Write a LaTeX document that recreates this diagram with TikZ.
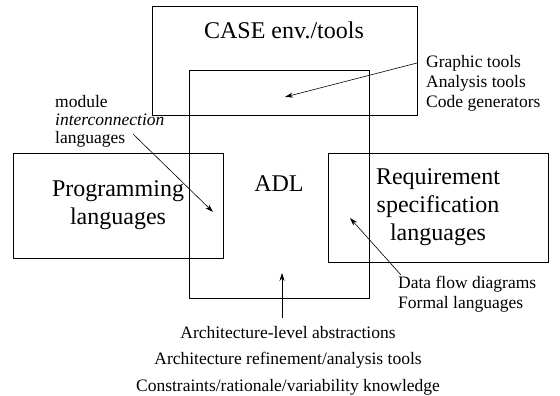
\documentclass[tikz,border=0pt]{standalone}
\usepackage{fontspec}
\setmainfont{Liberation Serif}
\usetikzlibrary{arrows.meta}
\begin{document}
\begin{tikzpicture}[x=1pt,y=-1pt,
  box/.style={draw, line width=0.8pt, inner sep=0pt, align=center,
    font=\fontsize{24}{28}\selectfont},
  bigtxt/.style={inner sep=0pt, font=\fontsize{24}{28}\selectfont},
  lbl/.style={inner sep=0pt, align=left, anchor=north west},
  arr/.style={line width=0.6pt, -{Stealth[length=8pt,width=5pt]}}]
\useasboundingbox (0,0) rectangle (560,396);
% boxes
\node[box, minimum width=265pt, minimum height=109pt] (case) at (284.5,60.5) {};
\node[bigtxt, anchor=base] (casetxt) at (284,39) {CASE env./tools};
\node[box, minimum width=180pt, minimum height=228pt] (adl) at (279,184) {ADL};
\node[box, minimum width=210pt, minimum height=105pt] (prog) at (118,205.5) {Programming\\languages};
\node[box, minimum width=220pt, minimum height=109pt] (req) at (438,207.5) {Requirement\\specification\\languages};
% labels
\node[lbl, font=\fontsize{17.5}{20}\selectfont] (tools) at (426,55) {Graphic tools\\Analysis tools\\Code generators};
\node[lbl, font=\fontsize{17.5}{18}\selectfont] (mil) at (55,95) {module\\\textit{interconnection}\\languages};
\node[lbl, font=\fontsize{17.5}{20}\selectfont] (dfd) at (398,276) {Data flow diagrams\\Formal languages};
\node[inner sep=0pt, align=center, anchor=north, font=\fontsize{17.5}{26.5}\selectfont] (arch) at (288,326)
  {Architecture-level abstractions\\Architecture refinement/analysis tools\\Constraints/rationale/variability knowledge};
% arrows
\coordinate (g1) at (417,63);
\coordinate (g2) at (285,97);
\coordinate (m1) at (133,134);
\coordinate (m2) at (213,212);
\coordinate (d1) at (401,275);
\coordinate (d2) at (350,218);
\coordinate (a1) at (282,318);
\coordinate (a2) at (282,273);
\draw[arr] (g1) -- (g2);
\draw[arr] (m1) -- (m2);
\draw[arr] (d1) -- (d2);
\draw[arr] (a1) -- (a2);
\end{tikzpicture}
\end{document}
